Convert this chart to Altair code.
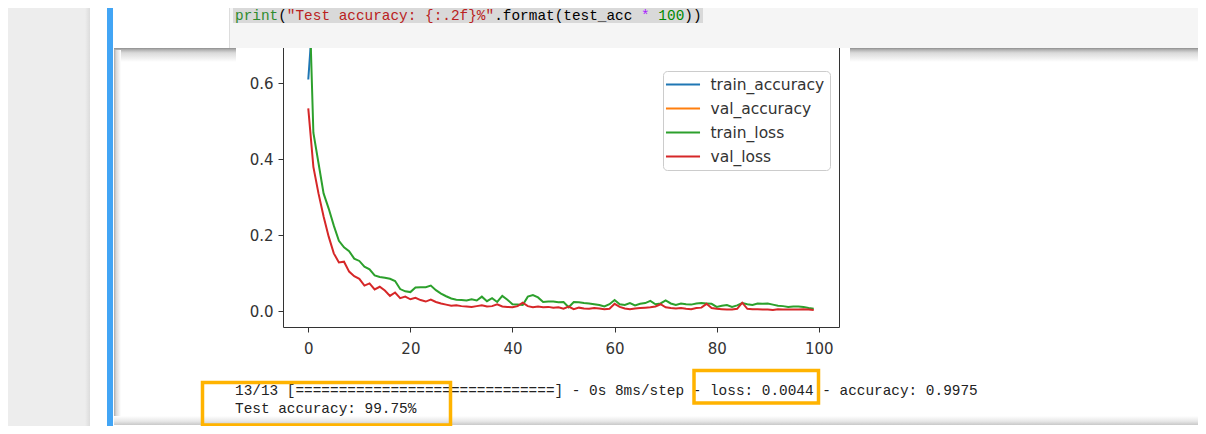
import altair as alt
import pandas as pd

# ---------------- data ----------------
SERIES = ["train_accuracy", "val_accuracy", "train_loss", "val_loss"]
COLORS = ["#1f77b4", "#ff7f0e", "#2ca02c", "#d62728"]
X_TICKS = [0, 20, 40, 60, 80, 100]
Y_TICKS = [0.0, 0.2, 0.4, 0.6]

train_accuracy = [
    0.610, 0.800, 0.860, 0.890, 0.915, 0.930, 0.940, 0.948, 0.953, 0.958,
    0.962, 0.966, 0.968, 0.971, 0.973, 0.974, 0.976, 0.977, 0.981, 0.982,
    0.983, 0.980, 0.979, 0.980, 0.978, 0.982, 0.985, 0.987, 0.989, 0.990,
    0.990, 0.991, 0.990, 0.991, 0.988, 0.992, 0.989, 0.993, 0.988, 0.991,
    0.995, 0.995, 0.996, 0.989, 0.987, 0.989, 0.993, 0.992, 0.993, 0.993,
    0.993, 0.997, 0.993, 0.993, 0.994, 0.994, 0.995, 0.995, 0.996, 0.995,
    0.991, 0.995, 0.995, 0.994, 0.996, 0.994, 0.994, 0.992, 0.995, 0.994,
    0.991, 0.994, 0.995, 0.994, 0.995, 0.995, 0.994, 0.994, 0.994, 0.995,
    0.997, 0.996, 0.995, 0.997, 0.996, 0.993, 0.995, 0.995, 0.994, 0.995,
    0.994, 0.995, 0.996, 0.996, 0.997, 0.996, 0.997, 0.997, 0.998, 0.998,
]
val_accuracy = [
    0.830, 0.880, 0.910, 0.930, 0.945, 0.955, 0.962, 0.962, 0.970, 0.972,
    0.975, 0.979, 0.977, 0.982, 0.980, 0.983, 0.987, 0.985, 0.989, 0.988,
    0.990, 0.989, 0.991, 0.992, 0.990, 0.992, 0.993, 0.994, 0.995, 0.995,
    0.996, 0.996, 0.997, 0.996, 0.995, 0.996, 0.996, 0.994, 0.996, 0.997,
    0.997, 0.996, 0.993, 0.996, 0.997, 0.996, 0.997, 0.997, 0.998, 0.997,
    0.998, 0.996, 0.999, 0.997, 0.998, 0.998, 0.998, 0.998, 0.999, 0.998,
    0.994, 0.997, 0.998, 0.999, 0.998, 0.998, 0.997, 0.997, 0.996, 0.994,
    0.997, 0.998, 0.998, 0.998, 0.998, 0.999, 0.998, 0.997, 0.994, 0.998,
    0.998, 0.999, 0.999, 0.999, 0.998, 0.993, 0.998, 0.999, 0.998, 0.999,
    0.999, 0.999, 0.999, 0.999, 0.999, 0.999, 0.999, 0.998, 0.999, 0.9975,
]
train_loss = [
    0.920, 0.470, 0.390, 0.310, 0.270, 0.225, 0.185, 0.168, 0.158, 0.138,
    0.132, 0.117, 0.110, 0.094, 0.090, 0.088, 0.085, 0.079, 0.058, 0.052,
    0.050, 0.062, 0.063, 0.063, 0.067, 0.055, 0.046, 0.039, 0.033, 0.030,
    0.029, 0.028, 0.031, 0.028, 0.038, 0.026, 0.034, 0.024, 0.040, 0.030,
    0.018, 0.017, 0.016, 0.038, 0.042, 0.036, 0.024, 0.025, 0.025, 0.023,
    0.024, 0.010, 0.024, 0.023, 0.021, 0.020, 0.018, 0.016, 0.012, 0.018,
    0.029, 0.018, 0.016, 0.021, 0.015, 0.019, 0.021, 0.027, 0.018, 0.020,
    0.028, 0.020, 0.016, 0.020, 0.018, 0.017, 0.020, 0.021, 0.020, 0.019,
    0.011, 0.014, 0.016, 0.011, 0.015, 0.021, 0.018, 0.016, 0.020, 0.019,
    0.020, 0.017, 0.014, 0.013, 0.011, 0.012, 0.012, 0.011, 0.008, 0.006,
]
val_loss = [
    0.534, 0.380, 0.310, 0.249, 0.196, 0.152, 0.128, 0.130, 0.104, 0.092,
    0.085, 0.067, 0.073, 0.057, 0.064, 0.054, 0.040, 0.049, 0.034, 0.038,
    0.031, 0.035, 0.029, 0.025, 0.030, 0.024, 0.020, 0.017, 0.014, 0.015,
    0.013, 0.012, 0.011, 0.013, 0.015, 0.012, 0.013, 0.018, 0.012, 0.011,
    0.010, 0.013, 0.022, 0.013, 0.010, 0.012, 0.010, 0.011, 0.009, 0.010,
    0.006, 0.012, 0.005, 0.009, 0.007, 0.006, 0.008, 0.007, 0.005, 0.006,
    0.019, 0.011, 0.007, 0.005, 0.007, 0.008, 0.009, 0.010, 0.012, 0.018,
    0.010, 0.008, 0.007, 0.008, 0.006, 0.005, 0.008, 0.009, 0.019, 0.008,
    0.006, 0.005, 0.004, 0.004, 0.006, 0.022, 0.006, 0.005, 0.005, 0.004,
    0.004, 0.003, 0.005, 0.004, 0.004, 0.004, 0.004, 0.005, 0.004, 0.003,
]

CODE_SEGMENTS = [
    ("print", "#2e8b2e"),
    ("(", "#000000"),
    ('"Test accuracy: {:.2f}%"', "#ba2121"),
    (".format(test_acc ", "#000000"),
    ("*", "#aa22ff"),
    (" ", "#000000"),
    ("100", "#008800"),
    ("))", "#000000"),
]
OUT_LINE1 = "13/13 [" + "=" * 30 + "] - 0s 8ms/step - loss: 0.0044 - accuracy: 0.9975"
OUT_LINE2 = "Test accuracy: 99.75%"

# ---------------- table ----------------
rows = []
for name, vals in zip(SERIES, [train_accuracy, val_accuracy, train_loss, val_loss]):
    assert len(vals) == 100, (name, len(vals))
    for e, v in enumerate(vals):
        rows.append({"epoch": e, "value": v, "series": name})
df = pd.DataFrame(rows)

# ---------------- layout (page pixels) ----------------
OX, OY = 283, 47          # plot-area origin on the page
W, H = 556, 280           # plot area
TOTAL_W, TOTAL_H = 1190, 418
PAD = {"left": OX - 8, "top": OY - 8, "right": TOTAL_W - (OX - 8) - W,
       "bottom": TOTAL_H - (OY - 8) - H}

ONE = pd.DataFrame({"k": [1]})
MONO = "Liberation Mono"
MONO_SIZE = 14.4
CW = MONO_SIZE * 0.6


def rect(x0, y0, x1, y1, **kw):
    return alt.Chart(ONE).mark_rect(**kw).encode(
        x=alt.value(x0 - OX), x2=alt.value(x1 - OX),
        y=alt.value(y0 - OY), y2=alt.value(y1 - OY))


def txt(x, y, s, color, size=MONO_SIZE, font=MONO):
    return alt.Chart(ONE).mark_text(
        text=s, align="left", baseline="middle", font=font,
        fontSize=size, color=color).encode(
        x=alt.value(x - OX), y=alt.value(y - OY))


def vgrad(stops):
    return alt.LinearGradient(gradient="linear", x1=0, x2=0, y1=0, y2=1,
                              stops=[alt.GradientStop(offset=o, color=c) for o, c in stops])


def hgrad(stops):
    return alt.LinearGradient(gradient="linear", x1=0, x2=1, y1=0, y2=0,
                              stops=[alt.GradientStop(offset=o, color=c) for o, c in stops])


TOP_SHADOW = [(0, "#8e8e8e"), (0.12, "#b0b0b0"), (0.35, "#dadada"), (1, "#ffffff")]
LEFT_SHADOW = [(0, "#a8a8a8"), (0.3, "#d8d8d8"), (1, "#ffffff")]
BOTTOM_SHADOW = [(0, "#ffffff"), (0.6, "#e6e6e6"), (1, "#c8c8c8")]

background = [
    rect(8, 8, 90, 426, color="#ededed"),
    rect(85, 8, 90, 426, fill=hgrad([(0, "#ededed"), (1, "#dcdcdc")])),
    rect(107, 8, 113, 426, color="#42a5f5"),
    rect(114, 48, 236, 62, fill=vgrad(TOP_SHADOW)),
    rect(850, 48, 1206, 62, fill=vgrad(TOP_SHADOW)),
    rect(114, 50, 121, 425, fill=hgrad(LEFT_SHADOW)),
    rect(114, 416, 1206, 425, fill=vgrad(BOTTOM_SHADOW)),
]

lines = alt.Chart(df).mark_line(strokeWidth=2, clip=True).encode(
    x=alt.X("epoch:Q",
            scale=alt.Scale(domain=[-4.95, 103.95], nice=False, zero=False),
            axis=alt.Axis(values=X_TICKS, format="d", title=None, grid=False,
                          domain=False, tickSize=5, tickColor="#333333",
                          labelFont="DejaVu Sans", labelFontSize=15,
                          labelColor="#333333", labelPadding=9)),
    y=alt.Y("value:Q",
            scale=alt.Scale(domain=[-0.042, 0.6957], nice=False, zero=False),
            axis=alt.Axis(values=Y_TICKS, format=".1f", title=None, grid=False,
                          domain=False, tickSize=5, tickColor="#333333",
                          labelFont="DejaVu Sans", labelFontSize=15,
                          labelColor="#333333", labelPadding=5)),
    color=alt.Color("series:N",
                    scale=alt.Scale(domain=SERIES, range=COLORS),
                    legend=alt.Legend(
                        title=None, orient="none", legendX=380, legendY=24,
                        fillColor="white", strokeColor="#cccccc",
                        cornerRadius=4, padding=5,
                        symbolType="M-2.27,0H2.27", symbolSize=225,
                        symbolStrokeWidth=2, symbolOffset=6.5,
                        labelOffset=19, labelFont="DejaVu Sans",
                        labelFontSize=15.5, labelColor="#333333",
                        rowPadding=7, labelLimit=300)),
)

foreground = [
    rect(229, 8, 1206, 48, color="#f5f5f5"),
    rect(229, 8, 230, 48, color="#dddddd"),
    rect(233, 8, 703, 23, color="#d9d9d9"),
]
x = 235
for seg, col in CODE_SEGMENTS:
    foreground.append(txt(x, 16, seg, col))
    x += len(seg) * CW

foreground += [
    txt(235, 390.5, OUT_LINE1, "#222222"),
    txt(235, 408.5, OUT_LINE2, "#222222"),
    rect(202.5, 382.5, 450.5, 425, fillOpacity=0, stroke="#ffb300", strokeWidth=3.5),
    rect(694, 370.5, 818.5, 403, fillOpacity=0, stroke="#ffb300", strokeWidth=3.5),
]

chart = alt.layer(*background, lines, *foreground).properties(
    width=W, height=H, padding=PAD,
    autosize=alt.AutoSizeParams(type="none"),
    background="white",
).configure_view(stroke="#333333", strokeWidth=1)

chart.save("out.html", embed_options={"renderer": "svg", "actions": False})
